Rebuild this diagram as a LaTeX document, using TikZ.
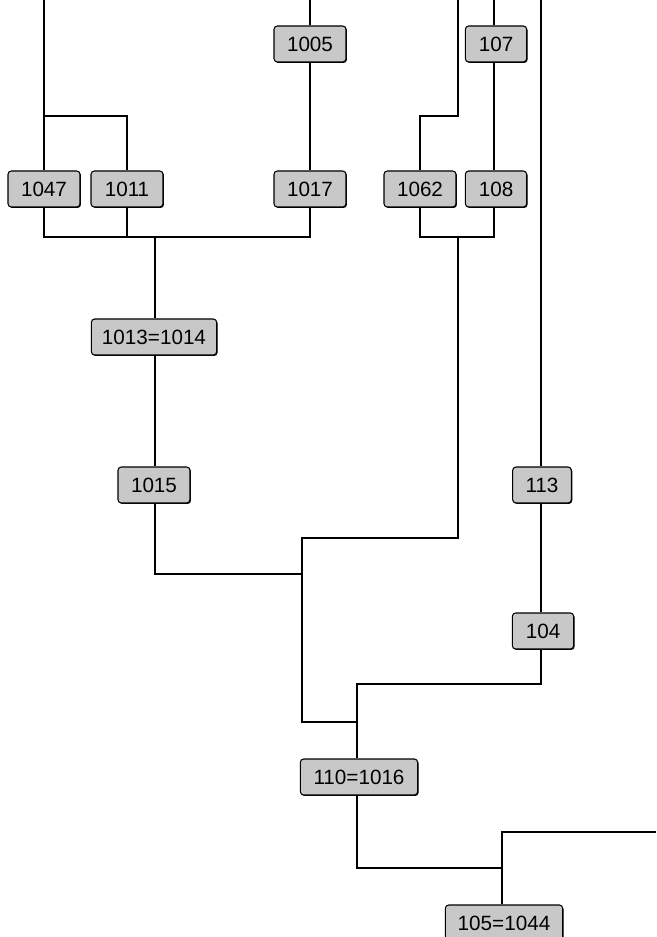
\documentclass[tikz,border=0pt]{standalone}
\usepackage{fontspec}
\setmainfont{Liberation Sans}
\usetikzlibrary{positioning,shadows}
\definecolor{boxgray}{RGB}{200,200,200}
\tikzset{
  tbox/.style  ={rectangle, rounded corners=2.5pt, draw=black, line width=0.8pt,
                 fill=boxgray, inner sep=0pt, minimum height=27pt,
                 font=\fontsize{15.5}{15.5}\selectfont,
                 drop shadow={shadow xshift=0.7pt, shadow yshift=-0.7pt,
                              fill=black, opacity=1}},
  wide/.style  ={tbox, minimum width=54pt},
  narrow/.style={tbox, minimum width=46pt},
  pair/.style  ={tbox, minimum width=88pt},
  link/.style  ={draw=black, line width=1.4pt},
  thin/.style  ={draw=black, line width=0.9pt}
}

\begin{document}
\begin{tikzpicture}[x=0.75pt,y=-0.75pt]
\useasboundingbox (0,0) rectangle (656,937);

%% ---- top row -------------------------------------------------------
\node[wide]   (n1005) at (310,44) {1005};
\node[narrow] (n107)  at (496,44) {107};

%% ---- second row ----------------------------------------------------
\node[wide]   (n1047) at (44,189)  {1047};
\node[wide]   (n1011) at (127,189) {1011};
\node[wide]   (n1017) at (310,189) {1017};
\node[wide]   (n1062) at (420,189) {1062};
\node[narrow] (n108)  at (496,189) {108};

%% ---- lower nodes ---------------------------------------------------
\node[tbox, minimum width=94pt] (n1013) at (154,337) {1013=1014};
\node[wide]   (n1015) at (154,485) {1015};
\node[tbox, minimum width=44pt] (n113) at (542,485) {113};
\node[tbox, minimum width=46pt] (n104) at (543,631) {104};
\node[pair]   (n110)  at (359,777) {110=1016};
\node[pair]   (n105)  at (504,923) {105=1044};

%% ---- free ends and junctions ---------------------------------------
\coordinate (t1047) at (44,0);
\coordinate (t1005) at (310,0);
\coordinate (t1062) at (458,0);
\coordinate (t107)  at (494,0);
\coordinate (t113)  at (541,0);
\coordinate (j1)    at (44,116);
\coordinate (j2)    at (458,116);
\coordinate (m1)    at (155,237);
\coordinate (m2)    at (458,237);
\coordinate (k1)    at (302,538);
\coordinate (k2)    at (302,722);
\coordinate (k3)    at (302,574);
\coordinate (m3)    at (357,684);
\coordinate (m4)    at (502,868);
\coordinate (m5)    at (502,832);
\coordinate (e105)  at (656,832);

%% ---- wiring (vertical runs kept on the line columns) ---------------
\draw[link] (t1047) -- (n1047);
\draw[thin] (j1) -| (n1011);
\draw[link] (t1005) -- (n1005);
\draw[link] (n1005) -- (n1017);
\draw[thin] (t1062) -- (j2) -| (n1062);
\draw[link] (t107) -- (t107 |- n107.north);
\draw[link] (t107 |- n107.south) -- (t107 |- n108.north);
\draw[link] (t113) -- (t113 |- n113.north);

\draw[link] (n1047) |- (m1) -| (n1017);
\draw[link] (n1011) -- (n1011 |- m1);
\draw[link] (m1) -- (m1 |- n1013.north);
\draw[link] (n1062) |- (m2) -| (t107 |- n108.south);
\draw[link] (m2) |- (k1) -- (k2) -| (m3);

\draw[link] (m1 |- n1013.south) -- (m1 |- n1015.north);
\draw[link] (m1 |- n1015.south) |- (k3);
\draw[link] (t113 |- n113.south) -- (t113 |- n104.north);
\draw[link] (t113 |- n104.south) |- (m3) -- (m3 |- n110.north);
\draw[link] (m3 |- n110.south) |- (m4);
\draw[link] (m4 |- n105.north) |- (e105);
\end{tikzpicture}
\end{document}
